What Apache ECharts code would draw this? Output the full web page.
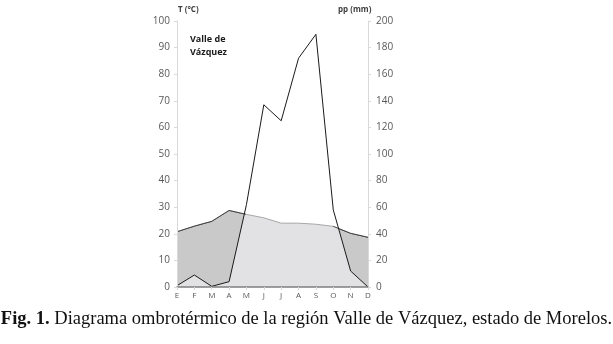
<!DOCTYPE html>
<html>
<head>
<meta charset="utf-8">
<script src="https://cdn.jsdelivr.net/npm/echarts@6/dist/echarts.min.js"></script>
<style>
  html, body { margin: 0; padding: 0; background: #fff; }
  #chart { width: 613px; height: 344px; }
</style>
</head>
<body>
<div id="chart"></div>
<script>
// meses
const months = ['E', 'F', 'M', 'A', 'M', 'J', 'J', 'A', 'S', 'O', 'N', 'D'];
// temperatura media (°C)
const temp = [20.8, 22.9, 24.7, 28.8, 27.3, 26.0, 24.0, 24.0, 23.6, 22.8, 20.2, 18.7];
// precipitación (mm)
const precip = [1, 9, 0.5, 4, 62, 137, 125, 172, 190, 58, 12, 0];
const tempTicks = [0, 10, 20, 30, 40, 50, 60, 70, 80, 90, 100];
const precipTicks = [0, 20, 40, 60, 80, 100, 120, 140, 160, 180, 200];

// puntos donde la curva de T corta a la de pp (pp = 2T)
const cuts = [];
for (let i = 0; i < months.length - 1; i++) {
    const a = temp[i] - precip[i] / 2;
    const b = temp[i + 1] - precip[i + 1] / 2;
    if (a * b < 0) cuts.push(i + a / (a - b));
}

const axisGray = '#d9d9d9';
const labelStyle = { color: '#595959', fontSize: 10, fontFamily: 'Open Sans' };

const option = {
    animation: false,
    backgroundColor: '#fff',
    grid: { left: 177, right: 245, top: 21, bottom: 57 },
    xAxis: {
        type: 'category',
        data: months,
        boundaryGap: false,
        z: 10,
        axisLine: { lineStyle: { color: '#7f7f7f', width: 1.5 } },
        axisTick: { show: true, length: 3, lineStyle: { color: axisGray } },
        axisLabel: { color: '#595959', fontSize: 8, fontFamily: 'Open Sans', margin: 5 },
    },
    yAxis: [
        {
            type: 'value',
            min: tempTicks[0],
            max: tempTicks[tempTicks.length - 1],
            interval: tempTicks[1] - tempTicks[0],
            z: 10,
            splitLine: { show: false },
            axisLine: { show: true, lineStyle: { color: axisGray } },
            axisTick: { show: true, length: 3, lineStyle: { color: axisGray } },
            axisLabel: Object.assign({ margin: 7 }, labelStyle),
        },
        {
            type: 'value',
            min: precipTicks[0],
            max: precipTicks[precipTicks.length - 1],
            interval: precipTicks[1] - precipTicks[0],
            z: 10,
            splitLine: { show: false },
            axisLine: { show: true, lineStyle: { color: axisGray } },
            axisTick: { show: true, length: 3, lineStyle: { color: axisGray } },
            axisLabel: Object.assign({ margin: 8 }, labelStyle),
        },
    ],
    visualMap: {
        type: 'piecewise',
        show: false,
        seriesIndex: 3,
        dimension: 0,
        pieces: [
            { lt: cuts[0], color: '#404040' },
            { gte: cuts[0], lt: cuts[1], color: '#a6a6a6' },
            { gte: cuts[1], color: '#404040' },
        ],
    },
    series: [
        {
            // área seca (gris oscuro)
            type: 'line',
            data: temp,
            yAxisIndex: 0,
            symbol: 'none',
            z: 1,
            lineStyle: { color: '#404040', width: 1 },
            areaStyle: { color: '#c9c9c9', opacity: 1 },
        },
        {
            // área bajo pp (gris claro)
            type: 'line',
            data: precip,
            yAxisIndex: 1,
            symbol: 'none',
            z: 2,
            lineStyle: { width: 0, opacity: 0 },
            areaStyle: { color: '#e2e2e4', opacity: 1 },
        },
        {
            // blanco por encima de T
            type: 'line',
            data: temp,
            yAxisIndex: 0,
            symbol: 'none',
            z: 3,
            lineStyle: { width: 0, opacity: 0 },
            areaStyle: { color: '#ffffff', opacity: 1, origin: 'end' },
        },
        {
            type: 'line',
            data: temp,
            yAxisIndex: 0,
            symbol: 'none',
            z: 4,
            lineStyle: { width: 1 },
        },
        {
            type: 'line',
            data: precip,
            yAxisIndex: 1,
            symbol: 'none',
            z: 5,
            lineStyle: { color: '#1a1a1a', width: 1 },
        },
    ],
    graphic: [
        {
            type: 'text', left: 178, top: 6, z: 100,
            style: { text: 'T (°C)', fill: '#404040', font: 'bold 8px "Open Sans"' },
        },
        {
            type: 'text', left: 338, top: 6, z: 100,
            style: { text: 'pp (mm)', fill: '#404040', font: 'bold 8px "Open Sans"' },
        },
        {
            type: 'text', left: 190, top: 33, z: 100,
            style: { text: 'Valle de\nVázquez', fill: '#1a1a1a', font: 'bold 9px "Open Sans"', lineHeight: 13 },
        },
        {
            type: 'text', left: 'center', top: 310, z: 100,
            style: {
                text: '{b|Fig. 1.} Diagrama ombrotérmico de la región Valle de Vázquez, estado de Morelos.',
                fill: '#111',
                font: '18.5px "Liberation Serif"',
                rich: {
                    b: { fontWeight: 'bold', fontSize: 18.5, fontFamily: 'Liberation Serif', fill: '#111' },
                },
            },
        },
    ],
};

const chart = echarts.init(document.getElementById('chart'));
chart.setOption(option);
</script>
</body>
</html>
